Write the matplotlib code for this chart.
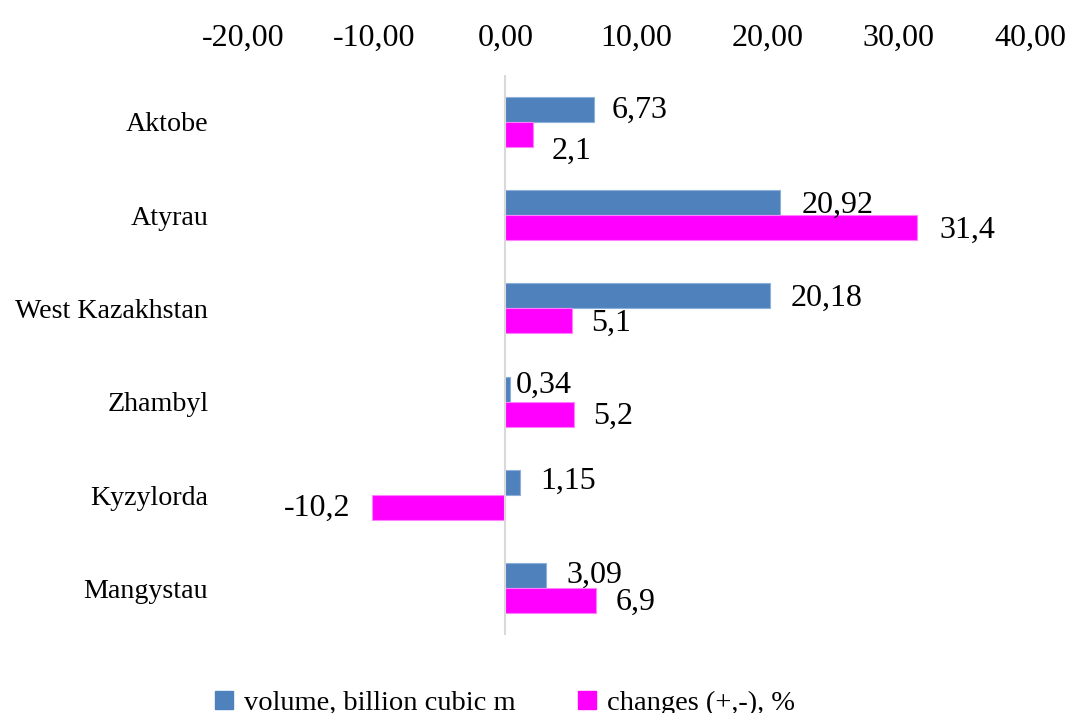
import numpy as np
import matplotlib.pyplot as plt
from matplotlib.patches import Patch

plt.rcParams['font.family'] = ['Liberation Serif', 'DejaVu Serif']

regions = ['Aktobe', 'Atyrau', 'West Kazakhstan', 'Zhambyl', 'Kyzylorda', 'Mangystau']
volume = [6.73, 20.92, 20.18, 0.34, 1.15, 3.09]
changes = [2.1, 31.4, 5.1, 5.2, -10.2, 6.9]
xticks = [-20, -10, 0, 10, 20, 30, 40]

blue = '#4F81BD'
pink = '#FF00FF'

# label nudges in pixels (x right, y up)
vol_off = [(18, -1), (22, -3), (21, -2), (6, 4), (20, 1), (21, 0)]
chg_off = [(19, -17), (22, -3), (19, -2), (20, -2), (-21, -1), (20, -1)]

fig = plt.figure(figsize=(10.78, 7.13), dpi=100)
ax = fig.add_axes([0.2254, 0.1094, 0.7301, 0.7854])

y = np.arange(len(regions))
h = 0.268
ax.barh(y - h / 2, volume, height=h, color=blue, edgecolor='#8DB0DA', linewidth=0.8)
ax.barh(y + h / 2, changes, height=h, color=pink, edgecolor='#FF80FF', linewidth=0.8)

for i, v in enumerate(volume):
    ax.annotate(f'{v:.2f}'.replace('.', ','), (v, y[i] - h / 2),
                xytext=vol_off[i], textcoords='offset pixels',
                ha='left', va='center', fontsize=23)
for i, v in enumerate(changes):
    ax.annotate(f'{v:.1f}'.replace('.', ','), (v, y[i] + h / 2),
                xytext=chg_off[i], textcoords='offset pixels',
                ha='left' if v >= 0 else 'right', va='center', fontsize=23)

ax.set_xlim(-20, 40)
ax.set_ylim(len(regions) - 0.5, -0.5)
ax.axvline(0, color='#D9D9D9', lw=1.5)

ax.xaxis.tick_top()
ax.set_xticks(xticks)
ax.set_xticklabels([f'{t:.2f}'.replace('.', ',') for t in xticks], fontsize=23)
ax.set_yticks(y)
ax.set_yticklabels(regions, fontsize=20.2)
ax.tick_params(axis='x', length=0, pad=16)
ax.tick_params(axis='y', length=0, pad=25)
for s in ax.spines.values():
    s.set_visible(False)

handles = [Patch(facecolor=blue, edgecolor=blue), Patch(facecolor=pink, edgecolor=pink)]
fig.legend(handles, ['volume, billion cubic m', 'changes (+,-), %'],
           loc='center', bbox_to_anchor=(0.4685, 0.013), ncol=2, frameon=False,
           fontsize=20.5, handlelength=0.63, handleheight=0.6, handletextpad=0.39,
           columnspacing=2.2)

fig.savefig('out.png', dpi=100)
